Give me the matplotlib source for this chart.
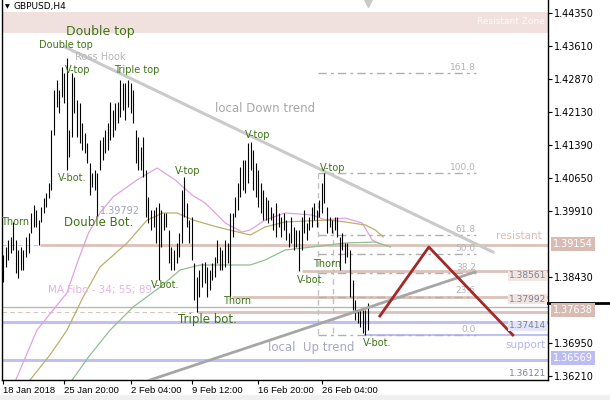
import matplotlib
matplotlib.use('Agg')
import matplotlib.pyplot as plt
from matplotlib.patches import Rectangle

# GBPUSD H4 bars (high / low)
highs = [1.38923, 1.39102, 1.39259, 1.39327, 1.39663, 1.39259, 1.39035, 1.39102, 1.39035, 1.39327,
         1.39416, 1.39865, 1.40044, 1.39932, 1.39708, 1.39999, 1.40201, 1.40313, 1.40537, 1.41726,
         1.42623, 1.42847, 1.42623, 1.43139, 1.43004, 1.43340, 1.41726, 1.43004, 1.42914, 1.42399,
         1.42331, 1.41883, 1.41659, 1.41434, 1.40986, 1.40762, 1.40829, 1.40762, 1.41502, 1.41569,
         1.41726, 1.41883, 1.42354, 1.42174, 1.42331, 1.42354, 1.42847, 1.42780, 1.42780, 1.42847,
         1.42780, 1.42623, 1.41726, 1.41569, 1.41345, 1.41569, 1.40829, 1.40224, 1.39932, 1.39932,
         1.39999, 1.40089, 1.39932, 1.39865, 1.39865, 1.39484, 1.39102, 1.39035, 1.39192, 1.39416,
         1.40380, 1.40672, 1.40089, 1.39708, 1.39775, 1.38744, 1.38430, 1.38587, 1.38744, 1.38766,
         1.38654, 1.38587, 1.38744, 1.38878, 1.39259, 1.39102, 1.39035, 1.39259, 1.39192, 1.39865,
         1.39865, 1.40224, 1.40537, 1.40896, 1.41053, 1.41053, 1.41434, 1.41457, 1.41277, 1.40986,
         1.40829, 1.40537, 1.40380, 1.40224, 1.40156, 1.39999, 1.39865, 1.40089, 1.39865, 1.39775,
         1.39865, 1.39708, 1.39416, 1.39775, 1.39551, 1.39484, 1.39484, 1.39775, 1.39932, 1.39640,
         1.39775, 1.39999, 1.40089, 1.39932, 1.40156, 1.40537, 1.40762, 1.39999, 1.39775, 1.39708,
         1.39775, 1.39775, 1.39327, 1.39416, 1.39192, 1.39192, 1.39035, 1.38362, 1.37914, 1.37690,
         1.37690, 1.37690, 1.37690, 1.37847]
lows = [1.38317, 1.38654, 1.38811, 1.38968, 1.39035, 1.38519, 1.38407, 1.38587, 1.38587, 1.38878,
        1.38968, 1.39416, 1.39551, 1.39551, 1.39154, 1.39663, 1.39865, 1.39999, 1.40201, 1.40380,
        1.41614, 1.42242, 1.42107, 1.42466, 1.42331, 1.40829, 1.41120, 1.41569, 1.42107, 1.41569,
        1.41434, 1.41277, 1.41210, 1.40986, 1.40268, 1.40448, 1.40380, 1.39792, 1.40829, 1.41053,
        1.41210, 1.41277, 1.41502, 1.41569, 1.41726, 1.41883, 1.42017, 1.42174, 1.41950, 1.42242,
        1.42107, 1.41883, 1.40986, 1.40829, 1.40829, 1.40672, 1.39775, 1.39640, 1.39484, 1.39551,
        1.39192, 1.38362, 1.39102, 1.39484, 1.39551, 1.38744, 1.38587, 1.38587, 1.38744, 1.38878,
        1.39192, 1.39775, 1.39551, 1.39192, 1.38811, 1.37914, 1.37638, 1.37981, 1.38205, 1.38295,
        1.37981, 1.38138, 1.38362, 1.38430, 1.38744, 1.38587, 1.38587, 1.38654, 1.38744, 1.37992,
        1.39327, 1.39775, 1.39932, 1.40224, 1.40380, 1.40313, 1.40537, 1.40829, 1.40380, 1.40224,
        1.39999, 1.39865, 1.39708, 1.39708, 1.39640, 1.39708, 1.39484, 1.39327, 1.39551, 1.39327,
        1.39484, 1.39259, 1.39102, 1.39192, 1.39035, 1.39102, 1.38561, 1.39035, 1.39416, 1.39259,
        1.39484, 1.39551, 1.39708, 1.39551, 1.39775, 1.39865, 1.40089, 1.39416, 1.39551, 1.39416,
        1.39484, 1.39327, 1.38587, 1.39035, 1.38744, 1.38878, 1.37981, 1.37690, 1.37465, 1.37398,
        1.37308, 1.37174, 1.37129, 1.37241]

# moving averages (bar index, price)
ma34_idx = [5, 13.3, 25, 29.5, 33.5, 38, 43.1, 52.5, 60.4, 67.5, 74.1, 79.2, 87.1, 93.7, 96.9,
            102.7, 110.6, 121.2, 126.3, 134.1, 140.8, 144.7, 147.1]
ma34 = [1.36120, 1.37241, 1.38071, 1.38811, 1.39416, 1.39865, 1.40224, 1.40605, 1.40874, 1.40605,
        1.40268, 1.40089, 1.39640, 1.39439, 1.39484, 1.39708, 1.39865, 1.39820, 1.39708, 1.39753,
        1.39640, 1.39259, 1.39192]
ma55_idx = [10.6, 18.4, 25.1, 31.4, 38, 48.6, 56.5, 62.7, 68.2, 74.5, 83.9, 96.9, 102.7, 110.6,
            127.5, 134.1, 142, 145.9, 149]
ma55 = [1.36120, 1.36681, 1.37241, 1.37981, 1.38654, 1.39192, 1.39708, 1.39865, 1.39865, 1.39708,
        1.39551, 1.39371, 1.39551, 1.39663, 1.39708, 1.39663, 1.39596, 1.39484, 1.39327]
ma89_idx = [27.1, 34.1, 42, 51, 61.6, 69.4, 77.3, 90.2, 96.9, 102.7, 110.6, 121.2, 134.1, 145.9, 151.8]
ma89 = [1.36120, 1.36681, 1.37241, 1.37757, 1.38205, 1.38587, 1.38699, 1.38699, 1.38699, 1.38811,
        1.39035, 1.39102, 1.39192, 1.39214, 1.39102]

time_idx = [0, 24, 50, 74, 100, 125]
time_labels = ['18 Jan 2018', '25 Jan 20:00', '2 Feb 04:00', '9 Feb 12:00', '16 Feb 20:00', '26 Feb 04:00']
price_ticks = [1.44350, 1.43610, 1.42870, 1.42130, 1.41390, 1.40650, 1.39910, 1.38430, 1.36950, 1.36210]

# trend lines (bar index, price)
down_trend = ([24.3, 192.0], [1.43587, 1.38990])
up_trend = ([57.6, 185.0], [1.36120, 1.38542])
zigzag = ([147.7, 166.9, 199.8], [1.37555, 1.39102, 1.37129])

fib_top = 1.40762
fib_bottom = 1.37129
fib_levels = [0.0, 23.6, 38.2, 50.0, 61.8, 100.0, 161.8]

resist_zone = (1.43901, 1.44372)
pink_levels = [1.39154, 1.38561, 1.37992, 1.37638]
pink_start = [14.5, 117.2, 89.7, 76.0]
blue_levels = [1.37414, 1.36569]
bid_level = 1.37757

PINK = '#dcc2ba'
BLUE = '#c0c0f4'
LBL = '#3f7416'

fig = plt.figure(figsize=(6.1, 4.0), dpi=100)
fig.patches.append(Rectangle((0, 0), 1, 5 / 400, transform=fig.transFigure, color='#f0f0f0', zorder=0))
ax = fig.add_axes([2 / 610, 20 / 400, 546 / 610, 380 / 400])
ax.set_xlim(-0.4, 213.6)
ax.set_ylim(1.36120, 1.44641)


def at(x, y):
    return ((x - 2) / 546.0, (380 - y) / 380.0)


ax.axhspan(resist_zone[0], resist_zone[1], color='#f0e0de', lw=0, zorder=0)

# horizontal levels
for lev, st in zip(pink_levels, pink_start):
    ax.plot([st, 213.6], [lev, lev], color=PINK, lw=2, zorder=1, solid_capstyle='butt')
for lev in [pink_levels[0], pink_levels[3]]:
    ax.plot([-0.4, 213.6], [lev, lev], color=PINK, lw=0.8, ls=(0, (4, 3)), zorder=1)
for lev in blue_levels:
    ax.axhline(lev, color=BLUE, lw=2.2, zorder=1)
ax.plot([141.8, 213.6], [fib_bottom, fib_bottom], color=BLUE, lw=1.5, zorder=1)
ax.axhline(bid_level, color='#b8b8b8', lw=1, zorder=1)

# fibonacci
rng = fib_top - fib_bottom
for lev in fib_levels:
    p = fib_bottom + rng * lev / 100
    ax.plot([123.4, 185.3], [p, p], color='#b0b0b0', lw=1, ls=(0, (6, 3, 2, 3)), zorder=1)
    ax.text(185.3, p + 0.0003, '%.1f' % lev, color='#b4b4b4', fontsize=6.5, ha='right', va='bottom', zorder=2)
ax.plot([123.4, 123.4], [fib_top, fib_bottom], color='#c0c0c0', lw=1, ls=(0, (4, 3)), zorder=1)
ax.plot([129.3, 129.3], [1.39484, fib_bottom], color='#c0c0c0', lw=1, ls=(0, (4, 3)), zorder=1)

# trend lines
ax.plot(down_trend[0], down_trend[1], color='#cacaca', lw=2.2, zorder=2)
ax.plot(up_trend[0], up_trend[1], color='#a6a6a6', lw=2, zorder=4)

# moving averages
ax.plot(ma34_idx, ma34, color='#e0a2e0', lw=0.9, zorder=2)
ax.plot(ma55_idx, ma55, color='#bcb06a', lw=0.9, zorder=2)
ax.plot(ma89_idx, ma89, color='#8fc08f', lw=0.9, zorder=2)

# bars
ax.vlines(range(len(highs)), lows, highs, color='black', lw=0.8, zorder=3)

ax.plot(zigzag[0], zigzag[1], color='#a52828', lw=2, zorder=4)

# text labels
labels = [
    ('Double top', 100, 31, 9), ('Double top', 66, 45, 7), ('V-top', 78, 70, 7),
    ('Triple top', 137, 70, 7), ('V-top', 188, 171, 7), ('V-top', 258, 135, 7),
    ('V-top', 333, 168, 7), ('Thorn', 15, 222, 7), ('V-bot.', 72, 178, 7),
    ('Double Bot.', 99, 222, 8.5), ('V-bot.', 165, 285, 7), ('Thorn', 237, 301, 7),
    ('Triple bot.', 207, 320, 8.5), ('V-bot.', 311, 280, 7), ('Thorn', 327, 264, 7),
    ('V-bot.', 377, 343, 7),
]
for txt, x, y, fs in labels:
    ax.text(*at(x, y), txt, transform=ax.transAxes, color=LBL, fontsize=fs, ha='center', va='center', zorder=5)

ax.text(*at(100, 57), 'Ross Hook', transform=ax.transAxes, color='#b8b8b8', fontsize=7, ha='center', va='center')
ax.text(*at(265, 108), 'local Down trend', transform=ax.transAxes, color='#a8a8a8', fontsize=8.5, ha='center', va='center')
ax.text(*at(311, 348), 'local  Up trend', transform=ax.transAxes, color='#a4a8c4', fontsize=8.5, ha='center', va='center')
ax.text(*at(100, 290), 'MA Fibo - 34; 55; 89', transform=ax.transAxes, color='#e6b4e6', fontsize=7.5, ha='center', va='center')
ax.text(*at(120, 211), '1.39792', transform=ax.transAxes, color='#a0a8b8', fontsize=7, ha='center', va='center')
ax.text(*at(545, 22), 'Resistant Zone', transform=ax.transAxes, color='#fafafa', fontsize=6.5, ha='right', va='center')
ax.text(*at(542, 236), 'resistant', transform=ax.transAxes, color='#dcbcb4', fontsize=7.5, ha='right', va='center')
ax.text(*at(546, 345), 'support', transform=ax.transAxes, color='#b4b4f0', fontsize=7.5, ha='right', va='center')

inner = [('1.38561', 276, '#f2e4e0'), ('1.37992', 299, '#f2e4e0'), ('1.37414', 326, '#e4e4fa'), ('1.36121', 373, 'white')]
for txt, y, bg in inner:
    ax.text(*at(546, y), txt, transform=ax.transAxes, color='#7a8498', fontsize=6.5, ha='right', va='center',
            bbox=dict(boxstyle='square,pad=0.1', fc=bg, ec='none'), zorder=6)

fig.text(5 / 610, 1 - 7 / 400, '\u25bc', fontsize=4.5, va='center', ha='left')
fig.text(13 / 610, 1 - 7 / 400, 'GBPUSD,H4', fontsize=6.5, va='center', ha='left')
ax.plot([143], [1.44580], marker='v', color='#c8c8c8', ms=6, clip_on=False)

# axes styling
ax.spines['top'].set_visible(False)
for s in ['left', 'right', 'bottom']:
    ax.spines[s].set_color('black')
    ax.spines[s].set_linewidth(1)
ax.yaxis.tick_right()
ax.set_yticks(price_ticks)
ax.set_yticklabels(['%.5f' % p for p in price_ticks], fontsize=7)
ax.set_xticks(time_idx)
ax.set_xticklabels(time_labels, fontsize=6.8, ha='left', family='Liberation Sans')
ax.tick_params(axis='both', length=3, width=0.8, pad=1.5)

# price boxes on the axis
fig.add_artist(plt.Line2D([548 / 610, 610 / 610], [1 - 303 / 400, 1 - 303 / 400], color='black', lw=2))
boxes = [('1.39154', 244, '#d8bcb4'), ('1.37638', 310, '#d8bcb4'), ('1.36569', 358, '#bcbcf4')]
for txt, y, bg in boxes:
    fig.text(553 / 610, 1 - y / 400, txt, fontsize=7, color='white', va='center', ha='left',
             bbox=dict(boxstyle='square,pad=0.2', fc=bg, ec='none'))

fig.savefig('out.png', dpi=100)
